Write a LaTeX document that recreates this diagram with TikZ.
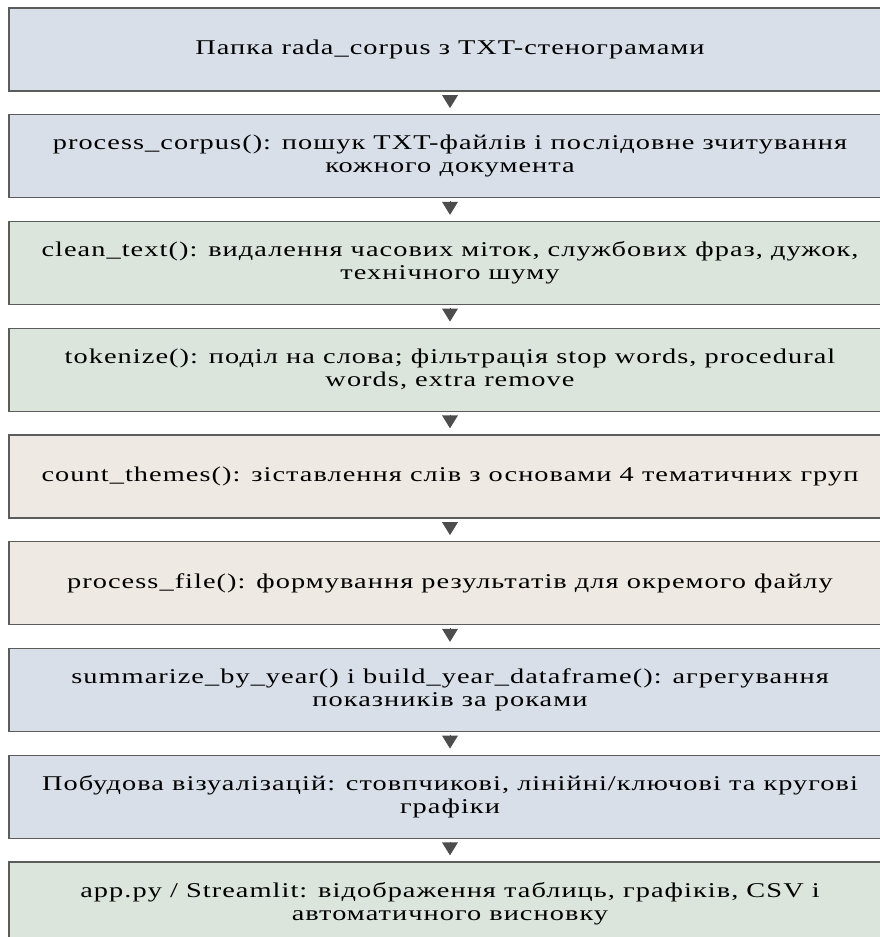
\documentclass[tikz,border=0pt]{standalone}
\usepackage{fontspec}
\setmainfont{Liberation Serif}[FakeStretch=1.35, LetterSpace=5]
\usetikzlibrary{arrows.meta}

\definecolor{stepblue}{HTML}{D9DFE8}
\definecolor{stepgreen}{HTML}{DCE5DC}
\definecolor{stepbeige}{HTML}{EEE9E2}
\definecolor{stepedge}{HTML}{5C5C5C}
\definecolor{steparrow}{HTML}{4D4D4D}

\begin{document}
\begin{tikzpicture}[x=1pt, y=1pt,
        stagebox/.style={draw=stepedge, line width=1.3pt, minimum width=882pt, minimum height=83pt,
            inner sep=0pt, align=center, font=\fontsize{21}{23}\selectfont},
        flow/.style={-{Triangle[width=16pt, length=13pt]}, draw=steparrow, fill=steparrow,
            line width=0pt, shorten <=4pt, shorten >=6pt}]
        \useasboundingbox (0,0) rectangle (879,-937);
        % Pipeline stages
        \node[stagebox, fill=stepblue] (corpus) at (450,-49.5) {Папка rada\_corpus з TXT-стенограмами};
        \node[stagebox, fill=stepblue] (reader) at (450,-156.25) {process\_corpus(): пошук TXT-файлів і послідовне зчитування\\ кожного документа};
        \node[stagebox, fill=stepgreen] (cleaner) at (450,-263) {clean\_text(): видалення часових міток, службових фраз, дужок,\\ технічного шуму};
        \node[stagebox, fill=stepgreen] (tokens) at (450,-369.75) {tokenize(): поділ на слова; фільтрація stop words, procedural\\ words, extra remove};
        \node[stagebox, fill=stepbeige] (themes) at (450,-476.5) {count\_themes(): зіставлення слів з основами 4 тематичних груп};
        \node[stagebox, fill=stepbeige] (perfile) at (450,-583.25) {process\_file(): формування результатів для окремого файлу};
        \node[stagebox, fill=stepblue] (years) at (450,-690) {summarize\_by\_year() і build\_year\_dataframe(): агрегування\\ показників за роками};
        \node[stagebox, fill=stepblue] (charts) at (450,-796.75) {Побудова візуалізацій: стовпчикові, лінійні/ключові та кругові\\ графіки};
        \node[stagebox, fill=stepgreen] (app) at (450,-903.5) {app.py / Streamlit: відображення таблиць, графіків, CSV і\\ автоматичного висновку};

        % Arrows between stages
        \draw[flow] (corpus) -- (reader);
        \draw[flow] (reader) -- (cleaner);
        \draw[flow] (cleaner) -- (tokens);
        \draw[flow] (tokens) -- (themes);
        \draw[flow] (themes) -- (perfile);
        \draw[flow] (perfile) -- (years);
        \draw[flow] (years) -- (charts);
        \draw[flow] (charts) -- (app);
    \end{tikzpicture}
\end{document}
